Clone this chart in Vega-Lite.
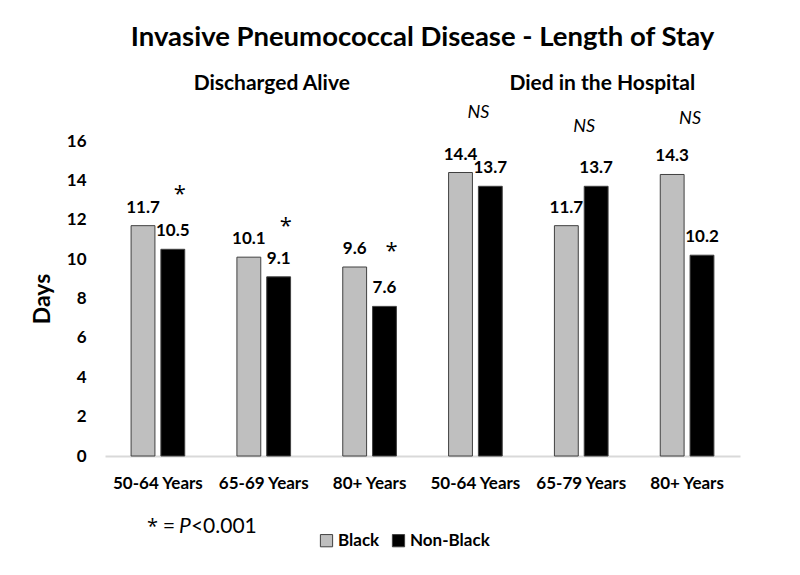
{
  "$schema": "https://vega.github.io/schema/vega-lite/v6.json",
  "autosize": "none",
  "width": 635,
  "height": 315,
  "padding": {"left": 105, "top": 141, "right": 60, "bottom": 119},
  "background": "white",
  "title": {"text": "Invasive Pneumococcal Disease - Length of Stay", "font": "Lato", "fontSize": 27.5, "fontWeight": "bold", "color": "#000000", "anchor": "middle", "offset": 21},
  "config": {"view": {"stroke": null}, "font": "Lato", "text": {"font": "Lato"}, "axisY": {"labelOverlap": false}},
  "datasets": {
    "bars": [
      {"key": "1|50-64 Years", "group": "Black", "days": 11.7},
      {"key": "1|50-64 Years", "group": "Non-Black", "days": 10.5},
      {"key": "2|65-69 Years", "group": "Black", "days": 10.1},
      {"key": "2|65-69 Years", "group": "Non-Black", "days": 9.1},
      {"key": "3|80+ Years", "group": "Black", "days": 9.6},
      {"key": "3|80+ Years", "group": "Non-Black", "days": 7.6},
      {"key": "4|50-64 Years", "group": "Black", "days": 14.4},
      {"key": "4|50-64 Years", "group": "Non-Black", "days": 13.7},
      {"key": "5|65-79 Years", "group": "Black", "days": 11.7},
      {"key": "5|65-79 Years", "group": "Non-Black", "days": 13.7},
      {"key": "6|80+ Years", "group": "Black", "days": 14.3},
      {"key": "6|80+ Years", "group": "Non-Black", "days": 10.2}
    ],
    "stars": [
      {"key": "1|50-64 Years", "mark": "*", "days": 13.3},
      {"key": "2|65-69 Years", "mark": "*", "days": 11.7},
      {"key": "3|80+ Years", "mark": "*", "days": 10.4}
    ],
    "ns": [
      {"key": "4|50-64 Years", "mark": "NS", "days": 17.4},
      {"key": "5|65-79 Years", "mark": "NS", "days": 16.7},
      {"key": "6|80+ Years", "mark": "NS", "days": 17.1}
    ],
    "panels": [
      {"key": "2|65-69 Years", "label": "Discharged Alive", "days": 18.9},
      {"key": "5|65-79 Years", "label": "Died in the Hospital", "days": 18.9}
    ],
    "foot": [
      {"key": "1|50-64 Years", "days": -3.6, "a": "* =", "b": "P", "c": "<0.001"}
    ]
  },
  "encoding": {
    "x": {"field": "key", "type": "nominal", "sort": null,
          "scale": {"paddingInner": 0, "paddingOuter": 0},
          "axis": {"title": null, "labelExpr": "split(datum.label,'|')[1]", "labelAngle": 0,
                   "labelFont": "Lato", "labelFontSize": 17, "labelFontWeight": "bold", "labelColor": "#000000",
                   "labelPadding": 19, "ticks": false, "domainColor": "#d9d9d9", "domainWidth": 2}},
    "y": {"field": "days", "type": "quantitative", "scale": {"domain": [0, 16]},
          "axis": {"title": "Days", "values": [0, 2, 4, 6, 8, 10, 12, 14, 16], "tickCount": 20, "labelOverlap": false, "grid": false, "domain": false, "ticks": false,
                   "labelFont": "Lato", "labelFontSize": 17, "labelFontWeight": "bold", "labelColor": "#000000", "labelPadding": 19,
                   "titleFont": "Lato", "titleFontSize": 23, "titleFontWeight": "bold", "titleColor": "#000000", "titlePadding": 12}}
  },
  "layer": [
    {
      "data": {"name": "bars"},
      "mark": {"type": "bar", "stroke": "#404040", "strokeWidth": 1},
      "encoding": {
        "xOffset": {"field": "group", "type": "nominal", "scale": {"paddingInner": 0.2, "paddingOuter": 0.875}},
        "fill": {"field": "group", "type": "nominal",
                 "scale": {"domain": ["Black", "Non-Black"], "range": ["#bfbfbf", "#000000"]},
                 "legend": {"title": null, "orient": "none", "legendX": 213, "legendY": 391, "direction": "horizontal",
                            "symbolType": "square", "symbolSize": 150, "symbolStrokeColor": "#404040", "symbolStrokeWidth": 1,
                            "labelFont": "Lato", "labelFontSize": 17, "labelFontWeight": "bold", "labelColor": "#000000",
                            "columnPadding": 10, "labelOffset": 3}}
      }
    },
    {
      "data": {"name": "bars"},
      "mark": {"type": "text", "font": "Lato", "fontSize": 17, "fontWeight": "bold", "baseline": "alphabetic", "dy": -13, "color": "#000000"},
      "encoding": {
        "xOffset": {"field": "group", "type": "nominal"},
        "text": {"field": "days", "type": "quantitative", "format": ".1f"}
      }
    },
    {
      "data": {"name": "stars"},
      "mark": {"type": "text", "font": "Open Sans", "fontSize": 22, "dx": 22, "baseline": "middle", "color": "#000000"},
      "encoding": {"text": {"field": "mark"}}
    },
    {
      "data": {"name": "ns"},
      "mark": {"type": "text", "font": "Lato", "fontSize": 18, "fontStyle": "italic", "dx": 3, "baseline": "middle", "color": "#000000"},
      "encoding": {"text": {"field": "mark"}}
    },
    {
      "data": {"name": "panels"},
      "transform": [{"filter": "datum.label === 'Discharged Alive'"}],
      "mark": {"type": "text", "font": "Lato", "fontSize": 21, "fontWeight": "bold", "baseline": "middle", "dx": 8, "color": "#000000"},
      "encoding": {"text": {"field": "label"}}
    },
    {
      "data": {"name": "panels"},
      "transform": [{"filter": "datum.label === 'Died in the Hospital'"}],
      "mark": {"type": "text", "font": "Lato", "fontSize": 21, "fontWeight": "bold", "baseline": "middle", "dx": 21, "color": "#000000"},
      "encoding": {"text": {"field": "label"}}
    },
    {
      "data": {"name": "foot"},
      "mark": {"type": "text", "font": "Open Sans", "fontSize": 20, "align": "left", "baseline": "middle", "dx": -11, "color": "#000000"},
      "encoding": {"text": {"field": "a"}}
    },
    {
      "data": {"name": "foot"},
      "mark": {"type": "text", "font": "Lato", "fontSize": 21, "fontStyle": "italic", "align": "left", "baseline": "middle", "dx": 21, "color": "#000000"},
      "encoding": {"text": {"field": "b"}}
    },
    {
      "data": {"name": "foot"},
      "mark": {"type": "text", "font": "Lato", "fontSize": 21, "align": "left", "baseline": "middle", "dx": 33, "color": "#000000"},
      "encoding": {"text": {"field": "c"}}
    }
  ]
}
